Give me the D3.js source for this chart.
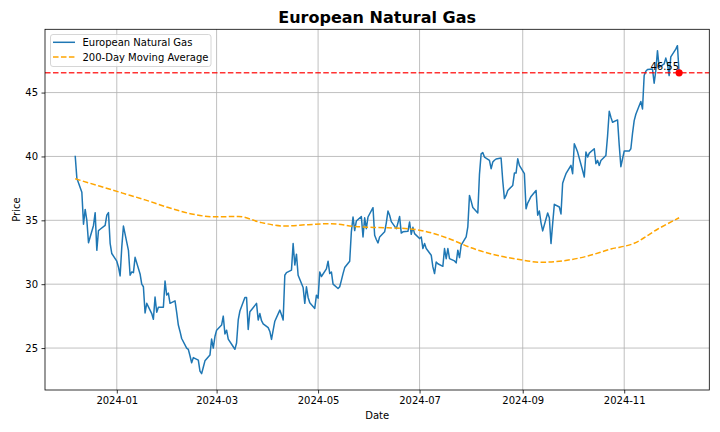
<!DOCTYPE html>
<html>
<head>
<meta charset="utf-8">
<script src="https://cdn.jsdelivr.net/npm/d3@7"></script>
<style>
  html, body { margin: 0; padding: 0; background: #fff; }
  svg { display: block; font-family: "DejaVu Sans", sans-serif; }
</style>
</head>
<body>
<svg id="chart" width="720" height="432"></svg>
<script>
// ---------------- data ----------------
const startDate = "2023-12-07";           // first trading day shown
const priceValues = [
  40.05, 38.3, 37.2, 34.7, 35.85, 35.0, 33.25, 34.6, 35.6, 32.65,
  34.2, 34.3, 34.6, 35.4, 35.6, 33.2, 32.4, 31.8, 31.35, 30.65,
  32.9, 34.55, 32.65, 30.7, 30.96, 30.9, 32.1, 30.8, 30.0, 29.8,
  27.75, 28.5, 27.7, 27.25, 29.0, 27.8, 28.2, 28.2, 30.25, 29.15,
  29.3, 28.5, 28.7, 27.8, 26.8, 26.3, 25.75, 25.0, 24.9, 24.4,
  23.85, 24.25, 24.05, 23.2, 23.0, 23.5, 24.0, 24.45, 25.7, 25.0,
  25.9, 26.4, 26.8,
  27.5, 26.1, 26.4, 25.7, 25.1, 24.9, 25.4, 27.2, 27.9, 28.96,
  28.96, 26.46, 27.84, 28.0, 28.5, 27.2, 27.7, 27.14, 26.9, 26.6,
  26.3, 25.68, 26.4, 27.1, 27.97, 27.6, 27.2, 30.7, 30.9, 31.1,
  33.18, 31.5, 32.35, 30.7, 29.74, 28.5, 29.8, 28.96, 28.54, 28.1,
  29.14, 28.9, 30.96, 30.6, 31.2, 31.8, 30.83, 30.96, 30.0, 29.66,
  29.8, 30.3, 30.83, 31.3, 31.8, 34.1, 35.26, 34.2, 34.95, 35.3,
  33.7, 35.2, 34.35, 35.26, 35.99, 33.83, 33.5, 33.23, 33.7, 34.1,
  34.8, 35.73, 35.4, 34.9, 34.35, 34.8, 35.3, 34.0, 34.1, 34.14,
  34.87, 33.9, 34.45, 33.96, 33.57, 33.7, 32.79, 33.18, 32.79, 32.27,
  31.35, 30.83, 31.74, 31.6, 31.4, 32.79, 32.0, 32.79, 32.0, 31.82,
  31.67, 32.66, 32.08, 33.05, 33.7, 34.48, 36.95, 36.5, 36.0, 35.57,
  38.6, 40.2, 40.3, 39.95, 39.7, 39.04, 39.56, 39.7, 39.8, 39.87,
  38.1, 36.7, 36.95, 37.34, 37.73, 38.7, 38.7, 39.82, 39.3, 38.65,
  35.9, 36.35, 36.6, 36.87, 37.34, 35.4,
  35.73, 34.8, 34.17, 35.57, 35.2, 33.18, 34.74, 36.25, 36.04, 35.5,
  37.9, 38.3, 38.65, 39.3, 38.65, 40.99, 40.68, 40.34, 38.9, 38.39,
  40.34, 39.95, 40.26, 40.6, 39.43, 39.69, 39.3, 39.69, 40.08, 41.6,
  43.54, 43.07, 42.68, 42.86, 40.9, 39.2, 39.82, 40.42, 40.42, 40.6,
  41.8, 42.8, 43.3, 44.3, 43.72, 46.33, 46.67, 46.8, 46.85, 45.73,
  46.72, 48.28, 46.98, 47.24, 47.7, 47.24, 46.33, 47.8, 48.4, 48.67,
  46.55
];
// 200-day moving average, read every 10th trading day (plus the last one)
const maValues = [
  38.25, 37.7, 37.15, 36.6, 36.0, 35.5, 35.27, 35.3, 34.82, 34.55,
  34.66, 34.74, 34.52, 34.43, 34.38, 34.15, 33.6, 32.85, 32.3, 31.95,
  31.72, 31.84, 32.2, 32.75, 33.2, 34.3, 35.2
];
const yTickValues = [25, 30, 35, 40, 45];
const titleText = "European Natural Gas";
const seriesNames = ["European Natural Gas", "200-Day Moving Average"];
const xLabel = "Date", yLabel = "Price";

// ---------------- dates (weekdays) ----------------
const parse = d3.timeParse("%Y-%m-%d");
function tradingDays(start, n) {
  const out = [];
  let d = parse(start);
  while (out.length < n) {
    const wd = d.getDay();
    if (wd !== 0 && wd !== 6) out.push(d);
    d = d3.timeDay.offset(d, 1);
  }
  return out;
}
const dates = tradingDays(startDate, priceValues.length);
const price = priceValues.map((v, i) => ({ date: dates[i], value: v }));
const maIdx = d3.range(0, priceValues.length - 1, 10).concat([priceValues.length - 1]);
const ma = maValues.map((v, i) => ({ date: dates[maIdx[i]], value: v }));
const last = price[price.length - 1];

// ---------------- layout ----------------
const svg = d3.select("#chart");
const L = 45, R = 709.3, T = 29.3, B = 390;

const t0 = dates[0], t1 = dates[dates.length - 1];
const span = t1 - t0;
const x = d3.scaleTime()
  .domain([new Date(+t0 - 0.05 * span), new Date(+t1 + 0.05 * span)])
  .range([L, R]);

const allV = priceValues.concat(maValues);
const vmin = d3.min(allV), vmax = d3.max(allV);
const vspan = vmax - vmin;
const y = d3.scaleLinear()
  .domain([vmin - 0.05 * vspan, vmax + 0.05 * vspan])
  .range([B, T]);

// grid
const grid = svg.append("g");
const xTicks = x.ticks(d3.timeMonth.every(2));
grid.selectAll("line.gx").data(xTicks).join("line")
  .attr("x1", d => x(d)).attr("x2", d => x(d))
  .attr("y1", T).attr("y2", B)
  .attr("stroke", "#b0b0b0").attr("stroke-width", 0.8);
grid.selectAll("line.gy").data(yTickValues).join("line")
  .attr("x1", L).attr("x2", R)
  .attr("y1", d => y(d)).attr("y2", d => y(d))
  .attr("stroke", "#b0b0b0").attr("stroke-width", 0.8);

// clip
svg.append("clipPath").attr("id", "clip").append("rect")
  .attr("x", L).attr("y", T).attr("width", R - L).attr("height", B - T);
const plot = svg.append("g").attr("clip-path", "url(#clip)");

// price line
plot.append("path").datum(price)
  .attr("fill", "none").attr("stroke", "#1f77b4").attr("stroke-width", 1.5)
  .attr("stroke-linejoin", "round")
  .attr("d", d3.line().x(d => x(d.date)).y(d => y(d.value)));

// moving average
plot.append("path").datum(ma)
  .attr("fill", "none").attr("stroke", "#ffa500").attr("stroke-width", 1.5)
  .attr("stroke-dasharray", "5.55,2.4")
  .attr("d", d3.line().curve(d3.curveMonotoneX).x(d => x(d.date)).y(d => y(d.value)));

// last value line
plot.append("line")
  .attr("x1", L).attr("x2", R)
  .attr("y1", y(last.value)).attr("y2", y(last.value))
  .attr("stroke", "#ff0000").attr("stroke-opacity", 0.8).attr("stroke-width", 1.5)
  .attr("stroke-dasharray", "5.55,2.4");

// last point
svg.append("circle")
  .attr("cx", x(last.date)).attr("cy", y(last.value)).attr("r", 3.6)
  .attr("fill", "#ff0000");
svg.append("text")
  .attr("x", x(last.date)).attr("y", y(last.value) - 2.4)
  .attr("text-anchor", "end").attr("font-size", 10).attr("fill", "#000")
  .text(last.value.toFixed(2));

// spines
svg.append("rect").attr("x", L).attr("y", T).attr("width", R - L).attr("height", B - T)
  .attr("fill", "none").attr("stroke", "#000").attr("stroke-width", 0.8);

// axes
const xAxis = svg.append("g").attr("transform", `translate(0,${B})`)
  .call(d3.axisBottom(x).tickValues(xTicks).tickFormat(d3.timeFormat("%Y-%m"))
    .tickSize(3.5).tickPadding(3.5));
const yAxis = svg.append("g").attr("transform", `translate(${L},0)`)
  .call(d3.axisLeft(y).tickValues(yTickValues).tickFormat(d3.format("d"))
    .tickSize(3.5).tickPadding(3.5));
[xAxis, yAxis].forEach(a => {
  a.select(".domain").remove();
  a.selectAll(".tick line").attr("stroke", "#000").attr("stroke-width", 0.8);
  a.selectAll(".tick text").attr("font-size", 10).attr("fill", "#000")
    .attr("font-family", "DejaVu Sans");
});

// labels
svg.append("text").attr("x", (L + R) / 2).attr("y", 23.3)
  .attr("text-anchor", "middle").attr("font-size", 16).attr("font-weight", "bold")
  .text(titleText);
svg.append("text").attr("x", (L + R) / 2).attr("y", 418.5)
  .attr("text-anchor", "middle").attr("font-size", 10).text(xLabel);
svg.append("text")
  .attr("transform", `translate(19.5,${(T + B) / 2}) rotate(-90)`)
  .attr("text-anchor", "middle").attr("font-size", 10).text(yLabel);

// legend
const lg = svg.append("g");
lg.append("rect").attr("x", 50.5).attr("y", 34.5).attr("width", 160.5).attr("height", 32)
  .attr("rx", 2.5).attr("fill", "#fff").attr("fill-opacity", 0.8)
  .attr("stroke", "#cccccc").attr("stroke-width", 0.8);
const rows = [
  { name: seriesNames[0], color: "#1f77b4", dash: null, y: 42.3 },
  { name: seriesNames[1], color: "#ffa500", dash: "5.55,2.4", y: 57 }
];
rows.forEach(r => {
  lg.append("line").attr("x1", 53).attr("x2", 75).attr("y1", r.y).attr("y2", r.y)
    .attr("stroke", r.color).attr("stroke-width", 1.5)
    .attr("stroke-dasharray", r.dash);
  lg.append("text").attr("x", 82.5).attr("y", r.y + 3.6)
    .attr("font-size", 10).text(r.name);
});
</script>
</body>
</html>
